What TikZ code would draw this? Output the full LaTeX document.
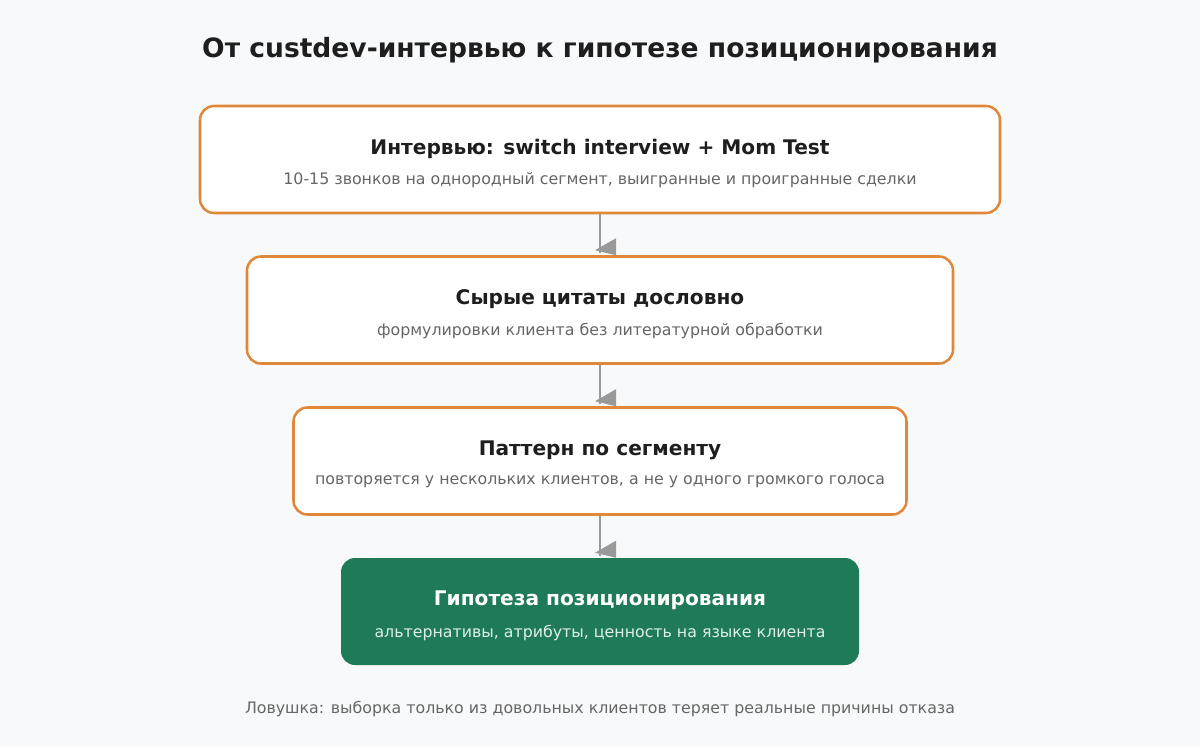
\documentclass[tikz,border=0pt]{standalone}
\usepackage{fontspec}
\setmainfont{DejaVu Sans}
\usetikzlibrary{calc, positioning}
\definecolor{pagebg}{HTML}{F8F9FA}
\definecolor{stepedge}{HTML}{E0883A}
\definecolor{goalfill}{HTML}{1F7B57}
\definecolor{headtext}{HTML}{1E1E1E}
\definecolor{subtext}{HTML}{666666}
\definecolor{goalsub}{HTML}{DDEFE6}
\definecolor{linkgray}{HTML}{999999}
\def\bh{107}
\tikzset{
    stepbox/.style = {
        draw=stepedge, fill=white, line width=1.9pt, rounded corners=10.5pt,
        minimum height=\bh*0.75pt, inner sep=0pt
    },
    goalbox/.style = {
        fill=goalfill, rounded corners=10.5pt, minimum height=\bh*0.75pt, inner sep=0pt
    },
    head/.style = {font=\bfseries\fontsize{15.1pt}{18pt}\selectfont, text=headtext, inner sep=0pt},
    sub/.style = {font=\fontsize{11.85pt}{14pt}\selectfont, text=subtext, inner sep=0pt},
    link/.style = {draw=linkgray, line width=1.9pt},
}
\begin{document}
\begin{tikzpicture}[x=0.75pt, y=-0.75pt]
        \fill[pagebg] (0,0) rectangle (1200,747);
        \useasboundingbox (0,0) rectangle (1200,747);
        % Title
        \node[font=\bfseries\fontsize{19.9pt}{24pt}\selectfont, text=headtext] (title) at (600,50) {От custdev-интервью к гипотезе позиционирования};

        % Place the blocks
        \node[stepbox, minimum width=800*0.75pt] (b1) at (600,159.5) {};
        \node[stepbox, minimum width=706*0.75pt] (b2) at (600,310) {};
        \node[stepbox, minimum width=613*0.75pt] (b3) at (600,461) {};
        \node[goalbox, minimum width=518*0.75pt] (b4) at (600,611.5) {};

        \node[head] (b1-head) at ([yshift=8.25pt] b1.center) {Интервью: switch interview + Mom Test};
        \node[sub] (b1-sub) at ([yshift=-15.75pt] b1.center) {10-15 звонков на однородный сегмент, выигранные и проигранные сделки};
        \node[head] (b2-head) at ([yshift=8.25pt] b2.center) {Сырые цитаты дословно};
        \node[sub] (b2-sub) at ([yshift=-15.75pt] b2.center) {формулировки клиента без литературной обработки};
        \node[head] (b3-head) at ([yshift=8.25pt] b3.center) {Паттерн по сегменту};
        \node[sub] (b3-sub) at ([yshift=-15.75pt] b3.center) {повторяется у нескольких клиентов, а не у одного громкого голоса};
        \node[head, text=white] (b4-head) at ([yshift=8.25pt] b4.center) {Гипотеза позиционирования};
        \node[sub, text=goalsub] (b4-sub) at ([yshift=-15.75pt] b4.center) {альтернативы, атрибуты, ценность на языке клиента};

        % Draw connections
        \foreach \a/\b in {b1/b2, b2/b3, b3/b4}{
            \draw[link] (\a.south) -- ([yshift=1.5pt] \b.north);
            \fill[linkgray] ([shift={(16,-17)}] \b.north) -- ([shift={(16,0)}] \b.north) -- ([shift={(-5,-5)}] \b.north) -- cycle;
        }

        % Footer
        \node[sub] (trap) at (600,709) {Ловушка: выборка только из довольных клиентов теряет реальные причины отказа};
    \end{tikzpicture}
\end{document}
